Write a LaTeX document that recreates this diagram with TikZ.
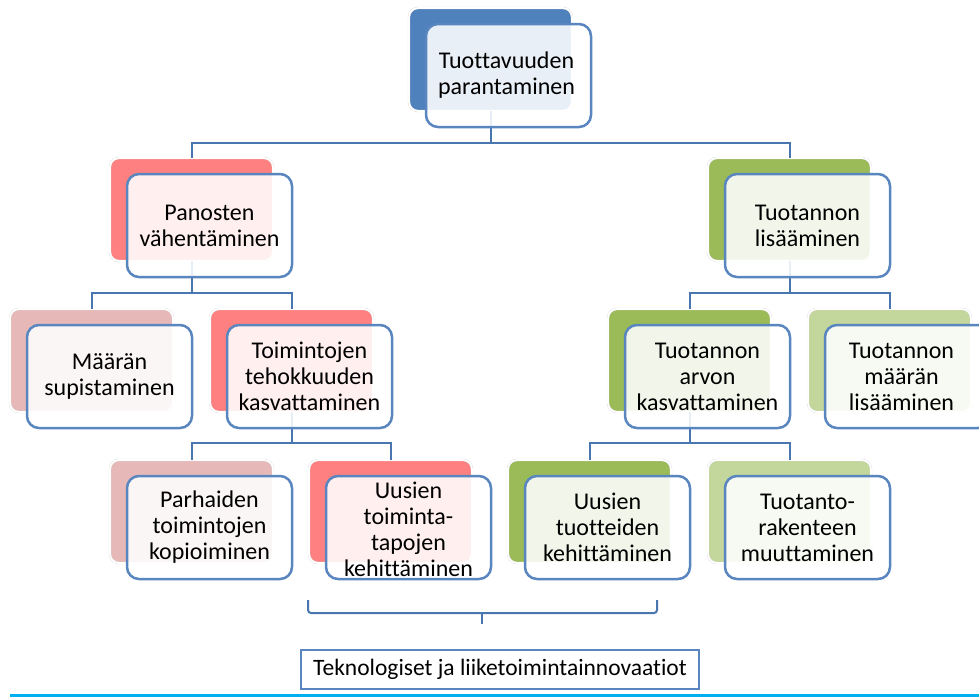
\documentclass[tikz,border=0pt]{standalone}
\usepackage{fontspec}
\setmainfont{Carlito}[Ligatures=NoCommon]
\definecolor{cblue}{HTML}{4F81BD}
\definecolor{cred}{HTML}{FF8080}
\definecolor{cpink}{HTML}{E6B9B8}
\definecolor{cgreen}{HTML}{9BBB59}
\definecolor{cpgreen}{HTML}{C3D69B}
\definecolor{cframe}{HTML}{5A86C0}
\definecolor{cconn}{HTML}{4A76B0}
\definecolor{ccyan}{HTML}{00B0F0}
\tikzset{
  backbox/.style={rounded corners=9pt, minimum width=163pt, minimum height=103pt,
    anchor=north west, inner sep=0pt, outer sep=0pt, draw=black!13,
    double=white, double distance=1.6pt},
  frontbox/.style={rounded corners=12pt, minimum width=165pt, minimum height=103pt,
    anchor=north west, inner sep=0pt, outer sep=0pt, draw=cframe, line width=2.5pt,
    fill=white, fill opacity=0.88},
  lbl/.style={font=\fontsize{24pt}{26pt}\selectfont, align=center, text=black, inner sep=0pt},
  conn/.style={draw=cconn, line width=2pt},
}
\begin{document}
\begin{tikzpicture}[x=1pt,y=-1pt]
\useasboundingbox (0,0) rectangle (979,697);
% back boxes
\node[backbox, fill=cblue]   (b1)  at (409,8) {};
\node[backbox, fill=cred]    (b2)  at (110,158) {};
\node[backbox, fill=cgreen]  (b3)  at (708,158) {};
\node[backbox, fill=cpink]   (b4)  at (10,309) {};
\node[backbox, fill=cred]    (b5)  at (210,309) {};
\node[backbox, fill=cgreen]  (b6)  at (608,309) {};
\node[backbox, fill=cpgreen] (b7)  at (808,309) {};
\node[backbox, fill=cpink]   (b8)  at (110,460) {};
\node[backbox, fill=cred]    (b9)  at (309,460) {};
\node[backbox, fill=cgreen]  (b10) at (508,460) {};
\node[backbox, fill=cpgreen] (b11) at (708,460) {};
% connectors
\coordinate (j1) at (b1.south |- 0,143);
\coordinate (j2) at (b2.south |- 0,293);
\coordinate (j3) at (b3.south |- 0,293);
\coordinate (j5) at (b5.south |- 0,443);
\coordinate (j6) at (b6.south |- 0,443);
\draw[conn] (b1.south) -- (j1) -| (b2.north);
\draw[conn] (j1) -| (b3.north);
\draw[conn] (b2.south) -- (j2) -| (b4.north);
\draw[conn] (j2) -| (b5.north);
\draw[conn] (b3.south) -- (j3) -| (b6.north);
\draw[conn] (j3) -| (b7.north);
\draw[conn] (b5.south) -- (j5) -| (b8.north);
\draw[conn] (j5) -| (b9.north);
\draw[conn] (b6.south) -- (j6) -| (b10.north);
\draw[conn] (j6) -| (b11.north);
% front boxes
\node[frontbox] (f1)  at (426,24) {};
\node[frontbox] (f2)  at (127,174) {};
\node[frontbox] (f3)  at (725,174) {};
\node[frontbox] (f4)  at (27,325) {};
\node[frontbox] (f5)  at (227,325) {};
\node[frontbox] (f6)  at (625,325) {};
\node[frontbox] (f7)  at (825,325) {};
\node[frontbox] (f8)  at (127,476) {};
\node[frontbox] (f9)  at (326,476) {};
\node[frontbox] (f10) at (525,476) {};
\node[frontbox] (f11) at (725,476) {};
% labels
\node[lbl] (t1)  at ([xshift=-2pt]f1.center)  {Tuottavuuden\\parantaminen};
\node[lbl] (t2)  at (f2.center)  {Panosten\\vähentäminen};
\node[lbl] (t3)  at (f3.center)  {Tuotannon\\lisääminen};
\node[lbl] (t4)  at (f4.center)  {Määrän\\supistaminen};
\node[lbl] (t5)  at (f5.center)  {Toimintojen\\tehokkuuden\\kasvattaminen};
\node[lbl] (t6)  at (f6.center)  {Tuotannon\\arvon\\kasvattaminen};
\node[lbl] (t7)  at ([xshift=-6pt]f7.center)  {Tuotannon\\määrän\\lisääminen};
\node[lbl] (t8)  at (f8.center)  {Parhaiden\\toimintojen\\kopioiminen};
\node[lbl] (t9)  at ([yshift=-2pt]f9.center)  {Uusien\\toiminta-\\tapojen\\kehittäminen};
\node[lbl] (t10) at (f10.center) {Uusien\\tuotteiden\\kehittäminen};
\node[lbl] (t11) at (f11.center) {Tuotanto-\\rakenteen\\muuttaminen};
% brace
\coordinate (bl) at (308,600);
\coordinate (br) at (657,600);
\coordinate (bm) at (482,613);
\coordinate (bt) at (482,624);
\draw[conn, rounded corners=3pt] (bl) |- (bm) -| (br);
\draw[conn] (bm) -- (bt);
% bottom box
\node[draw=cframe, line width=2pt, minimum width=398pt, minimum height=39pt,
      inner sep=0pt, anchor=north west, font=\fontsize{23.5pt}{26pt}\selectfont] (bb) at (300,649)
      {Teknologiset ja liiketoimintainnovaatiot};
% cyan rule
\coordinate (c1) at (10,695);
\coordinate (c2) at (979,695);
\draw[draw=ccyan, line width=3pt] (c1) -- (c2);
\end{tikzpicture}
\end{document}
